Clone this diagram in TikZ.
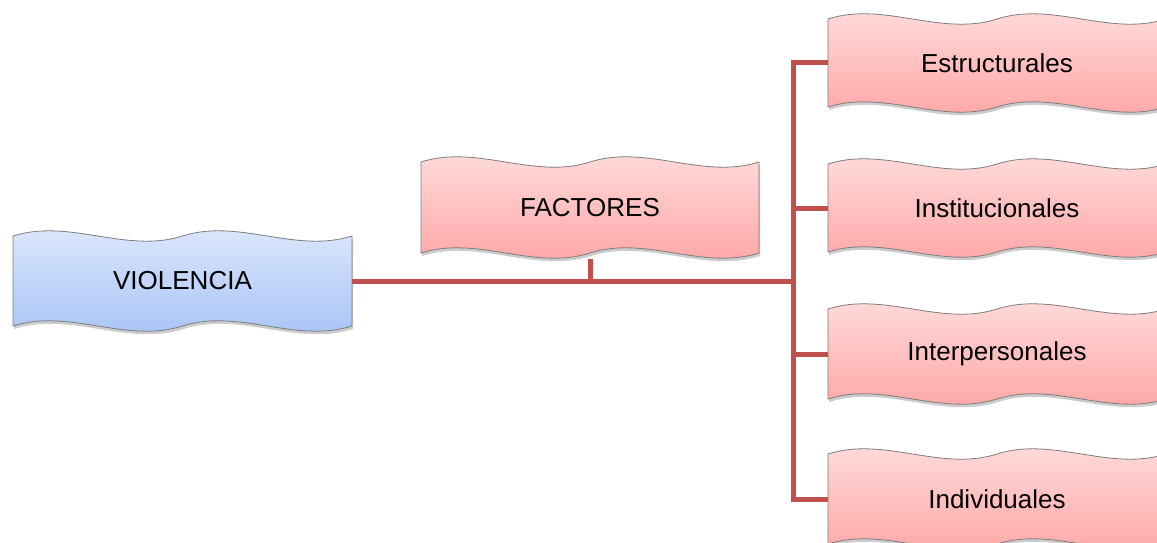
\documentclass[tikz,border=0pt]{standalone}
\usepackage{fontspec}
\setmainfont{Liberation Sans}
\usepackage{tikz}
\usepackage{xcolor}
\usetikzlibrary{shadows}
\definecolor{wavebluetop}{RGB}{223,233,252}
\definecolor{wavebluebot}{RGB}{165,194,246}
\definecolor{wavepinktop}{RGB}{255,222,222}
\definecolor{wavepinkbot}{RGB}{255,163,163}
\definecolor{waveedge}{RGB}{125,125,125}
\definecolor{linkred}{RGB}{192,80,77}
\tikzstyle{labelnode} = [rectangle, minimum width=338pt, minimum height=88pt, inner sep=0pt, text centered, font=\fontsize{26}{31}\selectfont]
\tikzstyle{pinkwave} = [draw=waveedge, line width=0.8pt, top color=wavepinktop, bottom color=wavepinkbot, drop shadow={shadow xshift=1pt, shadow yshift=-3pt, fill=black, opacity=0.2}]
\tikzstyle{bluewave} = [draw=waveedge, line width=0.8pt, top color=wavebluetop, bottom color=wavebluebot, drop shadow={shadow xshift=1pt, shadow yshift=-3pt, fill=black, opacity=0.2}]
\tikzstyle{link} = [draw=linkred, line width=5pt]

% double wave outline: style, left, top, width, height
\newcommand{\wavebox}[5]{%
  \pgfmathsetmacro{\wvxa}{#2}
  \pgfmathsetmacro{\wvxb}{#2+#4/6}
  \pgfmathsetmacro{\wvxc}{#2+#4/3}
  \pgfmathsetmacro{\wvxd}{#2+#4/2}
  \pgfmathsetmacro{\wvxe}{#2+2*#4/3}
  \pgfmathsetmacro{\wvxf}{#2+5*#4/6}
  \pgfmathsetmacro{\wvxg}{#2+#4}
  \pgfmathsetmacro{\wvyt}{#3}
  \pgfmathsetmacro{\wvyb}{#3+#5}
  \path[#1] (\wvxa,\wvyt) .. controls (\wvxb,\wvyt-18) and (\wvxc,\wvyt+18) .. (\wvxd,\wvyt)
    .. controls (\wvxe,\wvyt-18) and (\wvxf,\wvyt+18) .. (\wvxg,\wvyt)
    -- (\wvxg,\wvyb)
    .. controls (\wvxf,\wvyb+18) and (\wvxe,\wvyb-18) .. (\wvxd,\wvyb)
    .. controls (\wvxc,\wvyb+18) and (\wvxb,\wvyb-18) .. (\wvxa,\wvyb) -- cycle;
}

\begin{document}
\begin{tikzpicture}[x=1pt, y=-1pt]
  \clip (0,0) rectangle (1157,543);

  \wavebox{bluewave}{13}{236}{339}{90}
  \wavebox{pinkwave}{421}{162}{338}{91}
  \wavebox{pinkwave}{828}{19}{338}{88}
  \wavebox{pinkwave}{828}{164}{338}{88}
  \wavebox{pinkwave}{828}{309}{338}{90}
  \wavebox{pinkwave}{828}{454}{338}{90}

  \node[labelnode] (viol) at (182.5,281) {VIOLENCIA};
  \node[labelnode] (fact) at (590,207.5) {FACTORES};
  \node[labelnode] (estr) at (997,63) {Estructurales};
  \node[labelnode] (inst) at (997,208) {Institucionales};
  \node[labelnode] (inter) at (997,354) {Interpersonales};
  \node[labelnode] (indiv) at (997,499) {Individuales};
  \coordinate (hub) at (793,281);

  \draw[link] (viol.east) -- (hub);
  \draw[link] (fact.south) ++(0,7) -- (fact.south |- hub);
  \draw[link] (estr.west) -- (estr.west -| hub) -- (indiv.west -| hub) -- (indiv.west);
  \draw[link] (inst.west) -- (inst.west -| hub);
  \draw[link] (inter.west) -- (inter.west -| hub);
\end{tikzpicture}
\end{document}
